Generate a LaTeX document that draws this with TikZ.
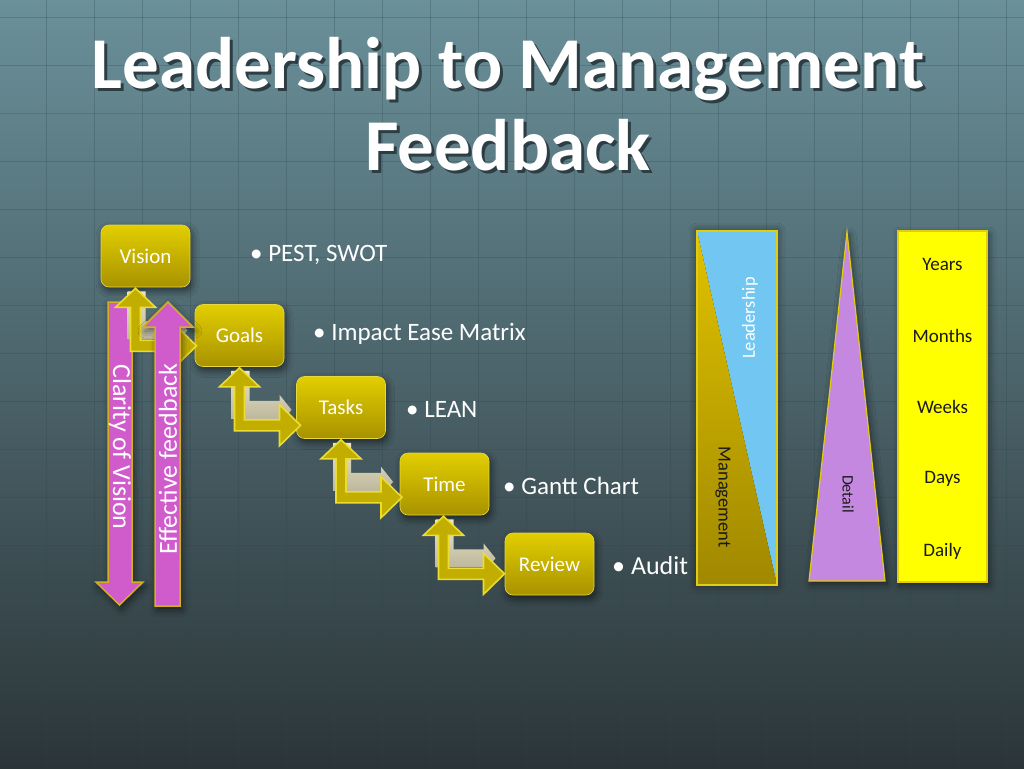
\documentclass[tikz,border=0pt]{standalone}
\usepackage{fontspec}
\setmainfont{Carlito}
\usetikzlibrary{calc,shadows.blur}
\definecolor{bgtop}{HTML}{6A909A}
\definecolor{bgmid}{HTML}{44626C}
\definecolor{bgbot}{HTML}{2B3538}
\definecolor{gridc}{HTML}{2E464E}
\definecolor{boxtop}{HTML}{E2CE00}
\definecolor{boxbot}{HTML}{A89200}
\definecolor{boxedge}{HTML}{E8D840}
\definecolor{arrowfill}{HTML}{C2AE00}
\definecolor{arrowedge}{HTML}{ECDC30}
\definecolor{beigetop}{HTML}{EAE4C8}
\definecolor{beigebot}{HTML}{B8B296}
\definecolor{pinkfill}{HTML}{D05CCC}
\definecolor{pinkedge}{HTML}{D2B020}
\definecolor{lblue}{HTML}{72C6F2}
\definecolor{goldtop}{HTML}{E0C200}
\definecolor{goldbot}{HTML}{A08800}
\definecolor{lilac}{HTML}{C488E0}
\definecolor{brightyellow}{HTML}{FFFF00}
\definecolor{shapeedge}{HTML}{E2CC10}
\definecolor{darktext}{HTML}{1A1A1A}
\definecolor{titleshade}{HTML}{2C3E44}
\newcommand{\shadowedtitle}[1]{\makebox[0pt][l]{\hspace{3pt}\raisebox{-3pt}{\color{titleshade}#1}}#1}
\begin{document}
\begin{tikzpicture}[x=1pt,y=-1pt,
  softshadow/.style={blur shadow={shadow xshift=2pt,shadow yshift=-4pt,shadow blur radius=7pt,shadow opacity=55}},
  gridline/.style={draw=gridc,line width=0.8pt,opacity=0.28},
  titletext/.style={text=white,font=\fontsize{73}{73}\bfseries\selectfont,inner sep=0pt},
  stepbox/.style={rectangle,rounded corners=8pt,minimum width=89pt,minimum height=62pt,
    top color=boxtop,bottom color=boxbot,draw=boxedge,line width=0.6pt,text=white,
    font=\fontsize{21}{21}\selectfont,softshadow},
  bullettext/.style={text=white,font=\fontsize{25}{25}\selectfont,anchor=west,inner sep=0pt},
  elbowstyle/.style={fill=arrowfill,draw=arrowedge,line width=1.6pt,line join=miter},
  beigestyle/.style={top color=beigetop,bottom color=beigebot},
  pinkarrow/.style={fill=pinkfill,draw=pinkedge,line width=1.5pt,softshadow},
  pinklabel/.style={text=white,font=\fontsize{26}{26}\selectfont,inner sep=0pt},
  darklabel/.style={text=darktext,font=\fontsize{19}{19}\selectfont,inner sep=0pt},
  elbow/.pic={
    \path[beigestyle] (-8,4) -- (10,4) -- (10,34) -- (40,34) -- (40,28) -- (52,43) -- (40,58) -- (40,52) -- (-8,52) -- cycle;
    \draw[elbowstyle] (0,1) -- (20,20) -- (5,20) -- (5,53) -- (40,53) -- (40,38) -- (61,58.5) -- (40,79) -- (40,64) -- (-5,64) -- (-5,20) -- (-20,20) -- cycle;
  }
]
\useasboundingbox (0,0) rectangle (1024,768);
% background
\shade[top color=bgtop,middle color=bgmid,bottom color=bgbot] (0,0) rectangle (1024,768);
\foreach \gx in {46,94,...,1022} \draw[gridline] (\gx,0) -- (\gx,768);
\foreach \gy in {17,65,...,767} \draw[gridline] (0,\gy) -- (1024,\gy);

% title
\node[titletext,anchor=base] (t1) at (508,88) {\shadowedtitle{Leadership to Management}};
\node[titletext,anchor=base] (t2) at (508,170) {\shadowedtitle{Feedback}};

% Clarity of Vision arrow (down)
\draw[pinkarrow] (108,302) -- (132,302) -- (132,582) -- (143,582) -- (119.5,605) -- (96,582) -- (108,582) -- cycle;
\node[pinklabel,rotate=-90] (clarity) at (120,447) {Clarity of Vision};

% steps
\node[stepbox] (vision) at (145.5,256) {Vision};
\node[stepbox] (goals) at (239.5,335.5) {Goals};
\node[stepbox] (tasks) at (341,407.5) {Tasks};
\node[stepbox] (time) at (444.5,484) {Time};
\node[stepbox] (review) at (549.5,564) {Review};

% elbow arrows from box to next box
\pic at ($(vision.south)+(-10,0)$) {elbow};
\pic at (goals.south) {elbow};
\pic at (tasks.south) {elbow};
\pic at ($(time.south)+(-1,0)$) {elbow};

% Effective feedback arrow (up)
\draw[pinkarrow] (168,302) -- (193,327) -- (180,327) -- (180,606) -- (155,606) -- (155,327) -- (143,327) -- cycle;
\node[pinklabel,rotate=90] (feedback) at (168,459) {Effective feedback};

% bullets
\node[bullettext] (b1) at (250,255) {• PEST, SWOT};
\node[bullettext] (b2) at (313,334) {• Impact Ease Matrix};
\node[bullettext] (b3) at (406,409) {• LEAN};
\node[bullettext] (b4) at (503,486) {• Gantt Chart};
\node[bullettext,font=\fontsize{26}{26}\selectfont] (b5) at (612,566) {• Audit};

% Leadership / Management bar
\fill[black,opacity=0.35,blur shadow={shadow xshift=0pt,shadow yshift=0pt,shadow blur radius=8pt,shadow opacity=60}] (697,231) rectangle (777,585);
\fill[lblue] (697,231) -- (777,231) -- (777,585) -- cycle;
\shade[top color=goldtop,bottom color=goldbot] (697,231) -- (777,585) -- (697,585) -- cycle;
\draw[shapeedge,line width=1.2pt] (697,231) rectangle (777,585);
\node[text=white,font=\fontsize{18.5}{18.5}\selectfont,inner sep=0pt,rotate=90] (lead) at (750,318) {Leadership};
\node[darklabel,font=\fontsize{18.5}{18.5}\selectfont,rotate=-90] (mgmt) at (723,497) {Management};

% Detail triangle
\fill[lilac,blur shadow={shadow xshift=2pt,shadow yshift=-3pt,shadow blur radius=7pt,shadow opacity=55}] (847,232) -- (885,581) -- (809,581) -- cycle;
\draw[shapeedge,line width=1.2pt,line join=miter] (847,232) -- (885,581) -- (809,581) -- cycle;
\node[darklabel,font=\fontsize{16}{16}\selectfont,rotate=-90] (detail) at (848,494) {Detail};

% time scale bar
\fill[brightyellow,blur shadow={shadow xshift=2pt,shadow yshift=-3pt,shadow blur radius=7pt,shadow opacity=55}] (898,231) rectangle (987,582);
\draw[shapeedge,line width=1.2pt] (898,231) rectangle (987,582);
\node[darklabel] (years) at (942.5,264) {Years};
\node[darklabel] (months) at (942.5,336) {Months};
\node[darklabel] (weeks) at (942.5,407) {Weeks};
\node[darklabel] (days) at (942.5,479) {Days};
\node[darklabel] (daily) at (942.5,551) {Daily};
\end{tikzpicture}
\end{document}
